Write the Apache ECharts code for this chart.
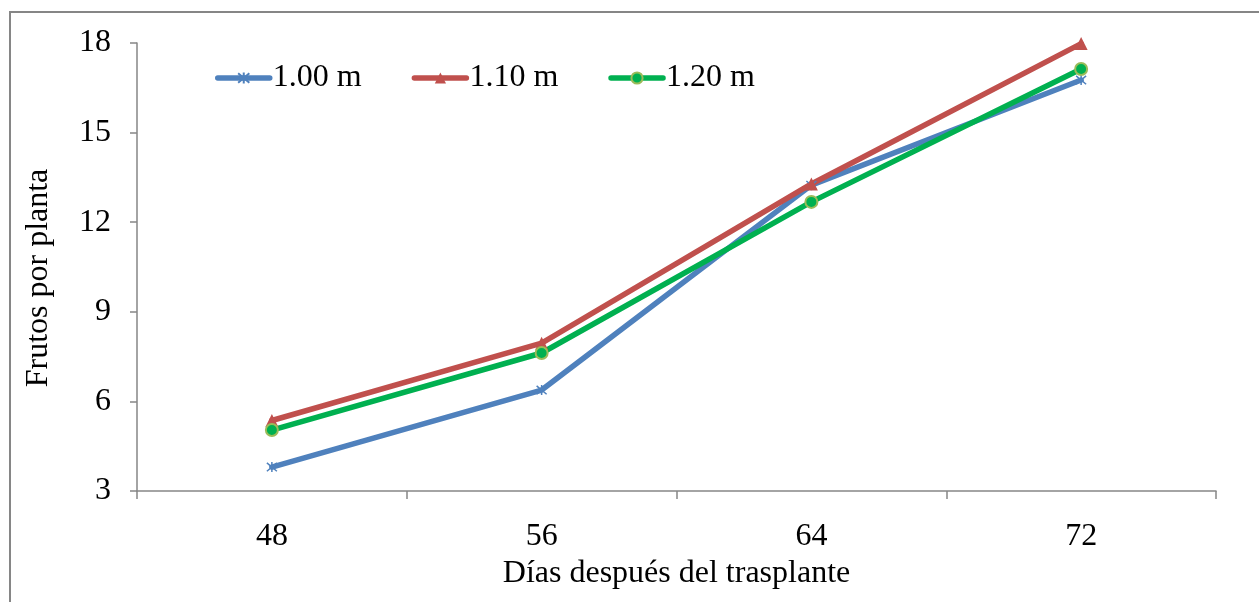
<!DOCTYPE html>
<html>
<head>
<meta charset="utf-8">
<script src="https://cdn.jsdelivr.net/npm/echarts@6/dist/echarts.min.js"></script>
<style>
  html, body { margin: 0; padding: 0; background: #fff; }
  #chart { width: 1259px; height: 602px; }
</style>
</head>
<body>
<div id="chart"></div>
<script>
// Días después del trasplante (categorías del eje X)
const dias = ['48', '56', '64', '72'];
// Frutos por planta según distancia entre hileras
const serie100 = [3.8, 6.38, 13.24, 16.76];
const serie110 = [5.36, 7.95, 13.28, 17.98];
const serie120 = [5.04, 7.62, 12.68, 17.13];
const nombres = ['1.00 m', '1.10 m', '1.20 m'];

const fuente = '"Liberation Serif", "Times New Roman", serif';
const gris = '#868686';

const chart = echarts.init(document.getElementById('chart'));

function linea(nombre, datos, color, simbolo, tam, estiloPunto) {
  return {
    name: nombre,
    type: 'line',
    data: datos,
    symbol: simbolo,
    symbolSize: tam,
    showAllSymbol: true,
    lineStyle: { color: color, width: 5.5, cap: 'round', join: 'round' },
    itemStyle: Object.assign({ color: color }, estiloPunto || {}),
    emphasis: { disabled: true },
    z: 3
  };
}

chart.setOption({
  animation: false,
  backgroundColor: '#fff',
  graphic: [{
    type: 'rect',
    shape: { x: 10, y: 12, width: 1260, height: 600 },
    style: { fill: 'none', stroke: gris, lineWidth: 2 },
    z: 0
  }],
  grid: { left: 137, right: 43, top: 43, bottom: 111 },
  legend: {
    left: 210,
    top: 57,
    itemWidth: 52,
    itemHeight: 14,
    itemGap: 50,
    data: nombres,
    lineStyle: { width: 5.5, cap: 'round' },
    textStyle: { fontFamily: fuente, fontSize: 32, color: '#000', padding: [0, 0, 0, -2] }
  },
  xAxis: {
    type: 'category',
    data: dias,
    boundaryGap: true,
    name: 'Días después del trasplante',
    nameLocation: 'middle',
    nameGap: 67,
    nameTextStyle: { fontFamily: fuente, fontSize: 32, color: '#000' },
    axisLine: { lineStyle: { color: gris, width: 1.5 } },
    axisTick: { show: true, length: 8, alignWithLabel: false, lineStyle: { color: gris, width: 1.5 } },
    axisLabel: { fontFamily: fuente, fontSize: 32, color: '#000', margin: 30 },
    splitLine: { show: false }
  },
  yAxis: {
    type: 'value',
    min: 3,
    max: 18,
    interval: 3,
    name: 'Frutos por planta',
    nameLocation: 'middle',
    nameGap: 82,
    nameTextStyle: { fontFamily: fuente, fontSize: 32, color: '#000', padding: [0, 22, 0, 0] },
    axisLine: { show: true, lineStyle: { color: gris, width: 1.5 } },
    axisTick: { show: true, length: 7, lineStyle: { color: gris, width: 1.5 } },
    axisLabel: { fontFamily: fuente, fontSize: 32, color: '#000', margin: 26 },
    splitLine: { show: false }
  },
  series: [
    linea(nombres[0], serie100, '#4F81BD',
      'path://M0,0L10,10M10,0L0,10M5,-1L5,11', 10,
      { borderColor: '#4F81BD', borderWidth: 1.5 }),
    linea(nombres[1], serie110, '#C0504D', 'triangle', 13),
    linea(nombres[2], serie120, '#00B050', 'circle', 12,
      { borderColor: '#9BBB59', borderWidth: 2 })
  ]
});
</script>
</body>
</html>
